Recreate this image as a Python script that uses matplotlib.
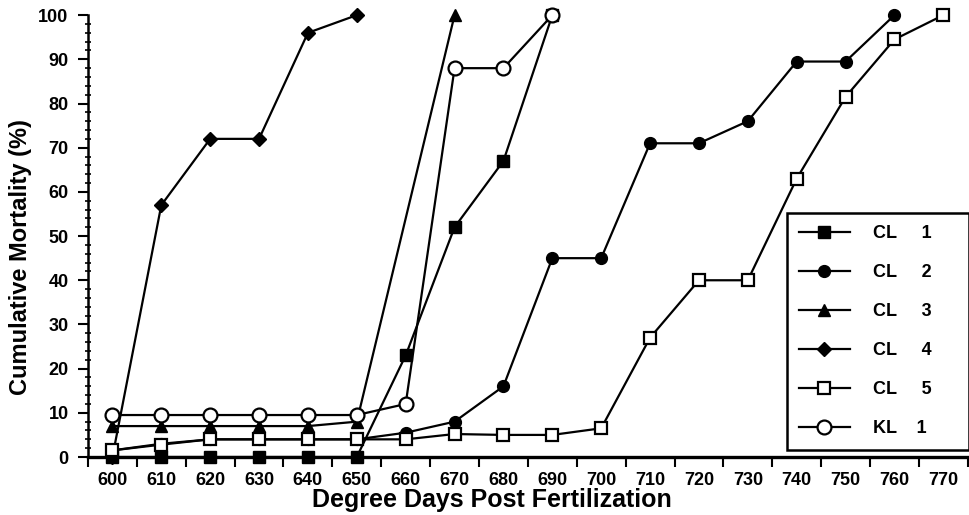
import matplotlib
matplotlib.use("Agg")
from matplotlib import pyplot as plt
from matplotlib.ticker import MultipleLocator, FixedLocator

# degree days on the x axis
days = list(range(600, 780, 10))

cl1_x = [600, 610, 620, 630, 640, 650, 660, 670, 680, 690]
cl1_y = [0, 0, 0, 0, 0, 0, 23, 52, 67, 100]

cl2_x = list(range(600, 770, 10))
cl2_y = [1.5, 3, 4, 4, 4, 4, 5.5, 8, 16, 45, 45, 71, 71, 76, 89.5, 89.5, 100]

cl3_x = [600, 610, 620, 630, 640, 650, 670]
cl3_y = [7, 7, 7, 7, 7, 8, 100]

cl4_x = [600, 610, 620, 630, 640, 650]
cl4_y = [0, 57, 72, 72, 96, 100]

cl5_x = list(range(600, 780, 10))
cl5_y = [1.5, 2.8, 4, 4, 4, 4, 4, 5.2, 5, 5, 6.5, 27, 40, 40, 63, 81.5, 94.5, 100]

kl1_x = [600, 610, 620, 630, 640, 650, 660, 670, 680, 690]
kl1_y = [9.5, 9.5, 9.5, 9.5, 9.5, 9.5, 12, 88, 88, 100]

labels = ['CL     1', 'CL     2', 'CL     3', 'CL     4', 'CL     5', 'KL    1']

plt.rcParams['font.family'] = ['Liberation Sans', 'DejaVu Sans']
plt.rcParams['font.weight'] = 'bold'

fig = plt.figure(figsize=(9.7, 5.15), dpi=100)
ax = fig.add_axes([0.0907, 0.1126, 0.907, 0.858])

lw = 1.6
ax.plot(cl1_x, cl1_y, color='black', lw=lw, marker='s', ms=8, mfc='black', mec='black',
        clip_on=False, label=labels[0])
ax.plot(cl2_x, cl2_y, color='black', lw=lw, marker='o', ms=8.5, mfc='black', mec='black',
        clip_on=False, label=labels[1])
ax.plot(cl3_x, cl3_y, color='black', lw=lw, marker='^', ms=8, mfc='black', mec='black',
        clip_on=False, label=labels[2])
ax.plot(cl4_x, cl4_y, color='black', lw=lw, marker='D', ms=7, mfc='black', mec='black',
        clip_on=False, label=labels[3])
ax.plot(cl5_x, cl5_y, color='black', lw=lw, marker='s', ms=9, mfc='white', mec='black',
        mew=1.6, clip_on=False, label=labels[4])
ax.plot(kl1_x, kl1_y, color='black', lw=lw, marker='o', ms=10, mfc='white', mec='black',
        mew=1.6, clip_on=False, label=labels[5])

ax.set_xlim(595, 775)
ax.set_ylim(0, 100)

ax.xaxis.set_major_locator(FixedLocator(days))
ax.set_xticklabels([str(d) for d in days])
ax.xaxis.set_minor_locator(MultipleLocator(10, offset=5))
ax.tick_params(axis='x', which='major', length=0, pad=11, labelsize=13)
ax.tick_params(axis='x', which='minor', length=7, width=1.5, direction='out')

ax.yaxis.set_major_locator(MultipleLocator(10))
ax.yaxis.set_minor_locator(MultipleLocator(2))
ax.tick_params(axis='y', which='major', length=7, width=1.5, pad=7, labelsize=13)
ax.tick_params(axis='y', which='minor', length=4, width=1.2, direction='inout')

for lab in ax.get_xticklabels() + ax.get_yticklabels():
    lab.set_fontweight('bold')

ax.spines['top'].set_visible(False)
ax.spines['right'].set_visible(False)
ax.spines['left'].set_linewidth(1.8)
ax.spines['bottom'].set_linewidth(2.4)

leg = ax.legend(loc='lower left', bbox_to_anchor=(0.794, 0.016), frameon=True,
                fancybox=False, edgecolor='black', framealpha=1, borderpad=0.7,
                handlelength=2.8, handletextpad=1.3, labelspacing=1.22,
                prop={'weight': 'bold', 'size': 13}, borderaxespad=0)
leg.get_frame().set_linewidth(1.8)
for t in leg.get_texts():
    t.set_text(t.get_text() + ' ' * 5)

fig.text(0.507, 0.029, 'Degree Days Post Fertilization', ha='center', va='center',
         fontsize=18, fontweight='bold')
fig.text(0.021, 0.5, 'Cumulative Mortality (%)', ha='center', va='center',
         rotation=90, fontsize=17, fontweight='bold')

fig.savefig('out.png', dpi=100)
